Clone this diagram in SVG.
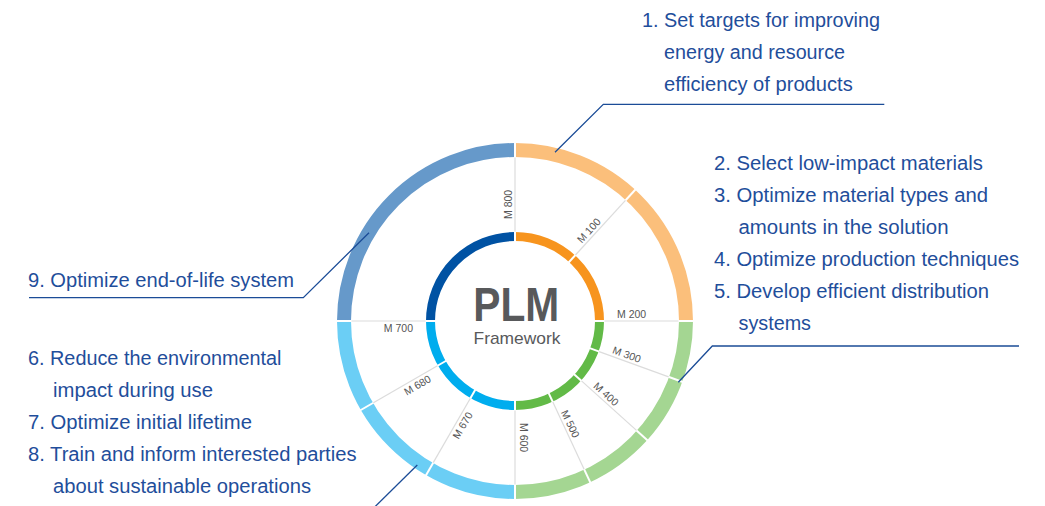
<svg xmlns="http://www.w3.org/2000/svg" width="1045" height="506" viewBox="0 0 1045 506">
<style>
.goal{font-family:"Liberation Sans",Arial,sans-serif;font-size:20px;fill:#1F4E9B}
.seg{font-family:"Liberation Sans",Arial,sans-serif;font-size:10.5px;fill:#555}
.outer{fill:none;stroke-width:14}
.inner{fill:none;stroke-width:9}
.gap{stroke:#fff;stroke-width:2}
.div{stroke:#DCDCDC;stroke-width:1.2}
.conn{fill:none;stroke:#1B4C97;stroke-width:1.3}
.ctr{font-family:"Liberation Sans",Arial,sans-serif;fill:#58595B;text-anchor:middle}
</style>
<rect width="1045" height="506" fill="#fff"/>
<g id="ring">
  <path class="outer" stroke="#FBBF7B" d="M515,150 A171,171 0 0 1 686,321"/>
  <path class="outer" stroke="#A4D692" d="M686,321 A171,171 0 0 1 515,492"/>
  <path class="outer" stroke="#6BCEF5" d="M515,492 A171,171 0 0 1 344,321"/>
  <path class="outer" stroke="#6699CA" d="M344,321 A171,171 0 0 1 515,150"/>
  <path class="inner" stroke="#F7941E" d="M515,236.5 A84.5,84.5 0 0 1 599.5,321"/>
  <path class="inner" stroke="#62BA47" d="M599.5,321 A84.5,84.5 0 0 1 515,405.5"/>
  <path class="inner" stroke="#00ADEE" d="M515,405.5 A84.5,84.5 0 0 1 430.5,321"/>
  <path class="inner" stroke="#0052A3" d="M430.5,321 A84.5,84.5 0 0 1 515,236.5"/>
  <g transform="translate(515 321)">
    <g class="gap">
      <line x1="0" y1="-78" x2="0" y2="-180"/>
      <line x1="0" y1="-78" x2="0" y2="-180" transform="rotate(42.5)"/>
      <line x1="0" y1="-78" x2="0" y2="-180" transform="rotate(90)"/>
      <line x1="0" y1="-78" x2="0" y2="-180" transform="rotate(110)"/>
      <line x1="0" y1="-78" x2="0" y2="-180" transform="rotate(132)"/>
      <line x1="0" y1="-78" x2="0" y2="-180" transform="rotate(155)"/>
      <line x1="0" y1="-78" x2="0" y2="-180" transform="rotate(180)"/>
      <line x1="0" y1="-78" x2="0" y2="-180" transform="rotate(210)"/>
      <line x1="0" y1="-78" x2="0" y2="-180" transform="rotate(240)"/>
      <line x1="0" y1="-78" x2="0" y2="-180" transform="rotate(270)"/>
    </g>
    <g class="div">
      <line x1="0" y1="-89.5" x2="0" y2="-163.5"/>
      <line x1="0" y1="-89.5" x2="0" y2="-163.5" transform="rotate(42.5)"/>
      <line x1="0" y1="-89.5" x2="0" y2="-163.5" transform="rotate(90)"/>
      <line x1="0" y1="-89.5" x2="0" y2="-163.5" transform="rotate(110)"/>
      <line x1="0" y1="-89.5" x2="0" y2="-163.5" transform="rotate(132)"/>
      <line x1="0" y1="-89.5" x2="0" y2="-163.5" transform="rotate(155)"/>
      <line x1="0" y1="-89.5" x2="0" y2="-163.5" transform="rotate(180)"/>
      <line x1="0" y1="-89.5" x2="0" y2="-163.5" transform="rotate(210)"/>
      <line x1="0" y1="-89.5" x2="0" y2="-163.5" transform="rotate(240)"/>
      <line x1="0" y1="-89.5" x2="0" y2="-163.5" transform="rotate(270)"/>
    </g>
  </g>
</g>
<g id="segment-labels">
  <text class="seg" transform="translate(515 321) rotate(-90)" x="102" y="-3">M 800</text>
  <text class="seg" transform="translate(515 321) rotate(-47.5)" x="102" y="-3">M 100</text>
  <text class="seg" transform="translate(515 321) rotate(0)" x="102" y="-3">M 200</text>
  <text class="seg" transform="translate(515 321) rotate(20)" x="102" y="-3">M 300</text>
  <text class="seg" transform="translate(515 321) rotate(42)" x="102" y="-3">M 400</text>
  <text class="seg" transform="translate(515 321) rotate(65)" x="102" y="-3">M 500</text>
  <text class="seg" transform="translate(515 321) rotate(90)" x="102" y="-4.5">M 600</text>
  <text class="seg" transform="translate(515 321) rotate(-60)" x="-102" y="10.5" text-anchor="end">M 670</text>
  <text class="seg" transform="translate(515 321) rotate(-30)" x="-102" y="10.5" text-anchor="end">M 680</text>
  <text class="seg" transform="translate(515 321)" x="-102" y="10.5" text-anchor="end">M 700</text>
</g>
<g id="center">
  <text class="ctr" x="516.3" y="320.7" font-size="49" font-weight="bold" textLength="86" lengthAdjust="spacingAndGlyphs">PLM</text>
  <text class="ctr" x="517" y="344" font-size="17" textLength="87" lengthAdjust="spacingAndGlyphs">Framework</text>
</g>
<g id="connectors">
  <polyline class="conn" points="555,152.3 603.3,104.3 884.3,104.3"/>
  <polyline class="conn" points="678.3,382.3 712.3,346 1019,346"/>
  <polyline class="conn" points="369,232.7 303.3,297.7 29,297.7"/>
  <polyline class="conn" points="417.3,465 375.2,506.5"/>
</g>
<g id="goal-1">
  <text class="goal" x="642" y="27" textLength="238" lengthAdjust="spacingAndGlyphs">1. Set targets for improving</text>
  <text class="goal" x="664" y="59" textLength="181" lengthAdjust="spacingAndGlyphs">energy and resource</text>
  <text class="goal" x="664" y="91" textLength="188.7" lengthAdjust="spacingAndGlyphs">efficiency of products</text>
</g>
<g id="goals-2-5">
  <text class="goal" x="714" y="170" textLength="269" lengthAdjust="spacingAndGlyphs">2. Select low-impact materials</text>
  <text class="goal" x="714" y="202" textLength="274" lengthAdjust="spacingAndGlyphs">3. Optimize material types and</text>
  <text class="goal" x="738.5" y="234" textLength="210" lengthAdjust="spacingAndGlyphs">amounts in the solution</text>
  <text class="goal" x="714" y="266" textLength="305" lengthAdjust="spacingAndGlyphs">4. Optimize production techniques</text>
  <text class="goal" x="714" y="298" textLength="275" lengthAdjust="spacingAndGlyphs">5. Develop efficient distribution</text>
  <text class="goal" x="738.5" y="329.5" textLength="72.5" lengthAdjust="spacingAndGlyphs">systems</text>
</g>
<g id="goal-9">
  <text class="goal" x="28" y="287" textLength="266" lengthAdjust="spacingAndGlyphs">9. Optimize end-of-life system</text>
</g>
<g id="goals-6-8">
  <text class="goal" x="28" y="365" textLength="253.5" lengthAdjust="spacingAndGlyphs">6. Reduce the environmental</text>
  <text class="goal" x="53" y="397" textLength="160" lengthAdjust="spacingAndGlyphs">impact during use</text>
  <text class="goal" x="28" y="429" textLength="224" lengthAdjust="spacingAndGlyphs">7. Optimize initial lifetime</text>
  <text class="goal" x="28" y="461" textLength="328.5" lengthAdjust="spacingAndGlyphs">8. Train and inform interested parties</text>
  <text class="goal" x="53" y="493" textLength="258" lengthAdjust="spacingAndGlyphs">about sustainable operations</text>
</g>
</svg>
